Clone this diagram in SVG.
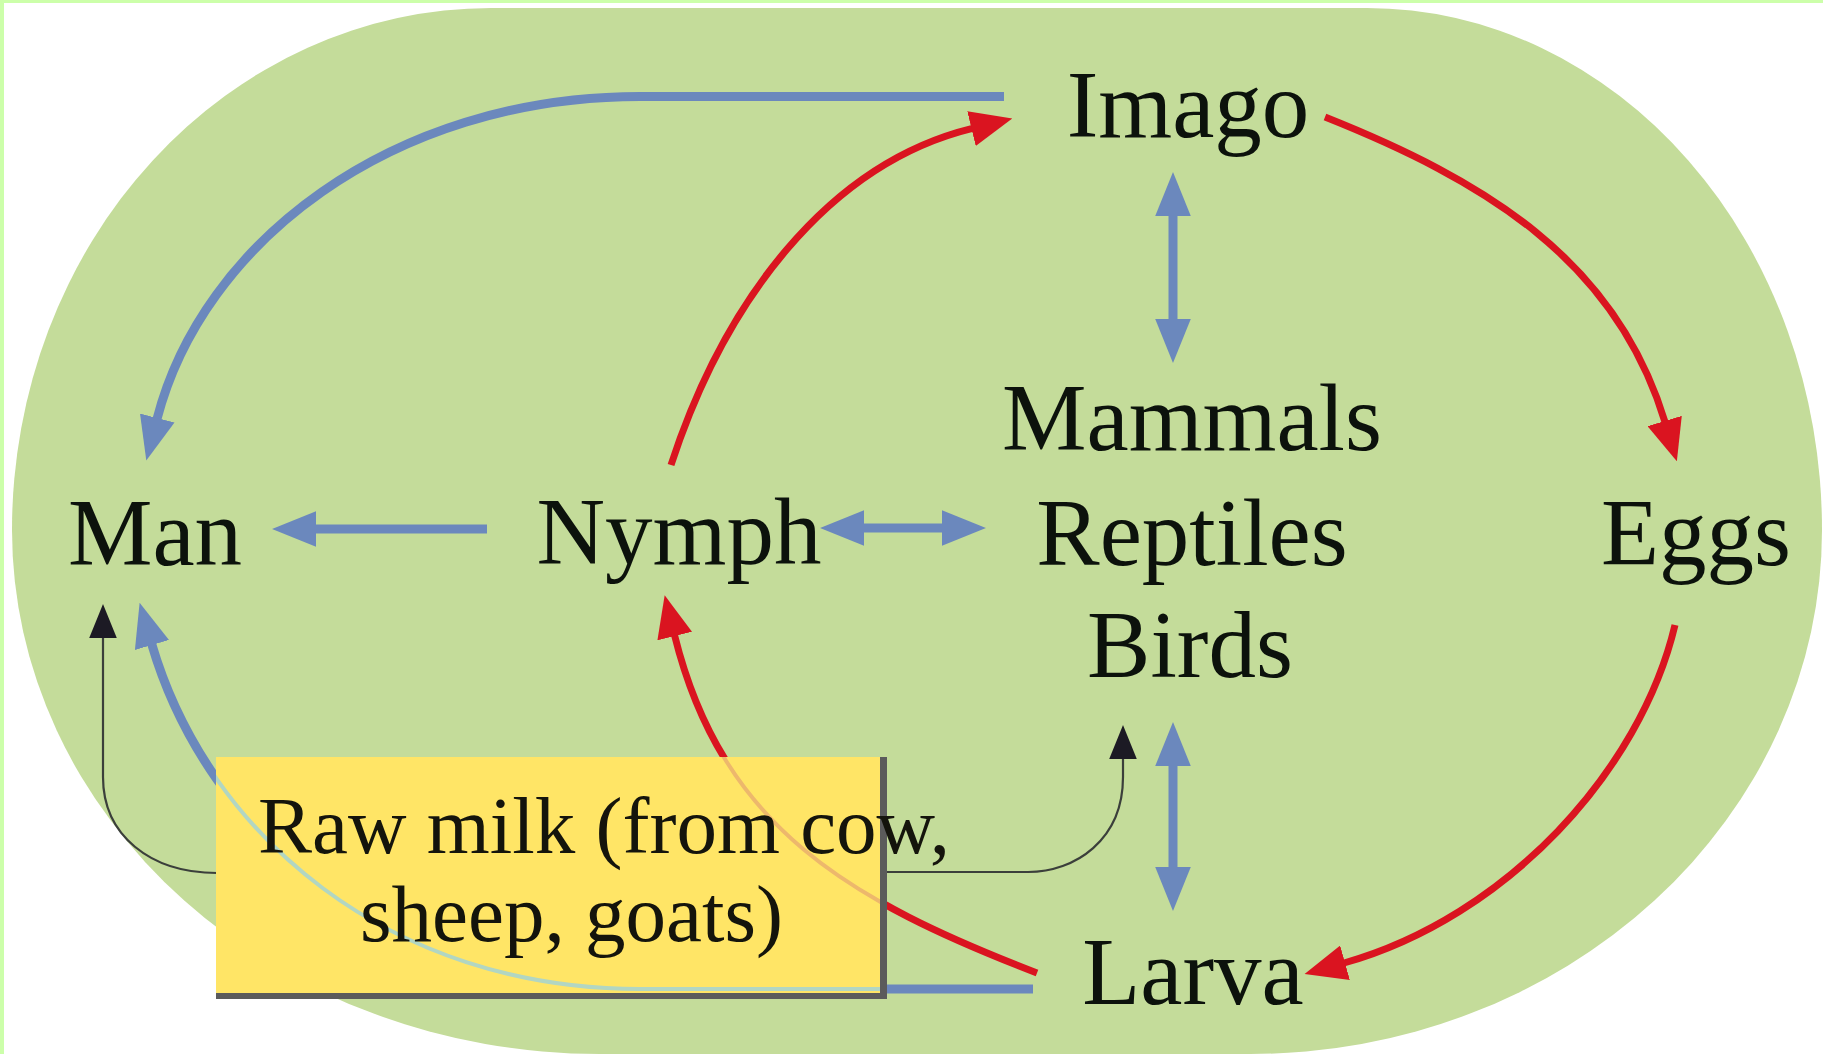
<svg xmlns="http://www.w3.org/2000/svg" width="1823" height="1054" viewBox="0 0 1823 1054">
<style>
.lbl{font-family:"Liberation Serif","Times New Roman",serif;font-size:95px;fill:#0c120c;text-anchor:middle}
.mtxt{font-family:"Liberation Serif","Times New Roman",serif;font-size:81px;fill:#14140c}
.blue{stroke:#6b88bd;stroke-width:9;fill:none}
.red{stroke:#da1420;stroke-width:7;fill:none}
.blk{stroke:#3b3f3b;stroke-width:2.2;fill:none}
</style>
<defs>
<marker id="ab" markerUnits="userSpaceOnUse" markerWidth="44" markerHeight="36" viewBox="0 0 42 34" refX="1" refY="17" orient="auto-start-reverse"><path d="M0,0 L42,17 L0,34 Z" fill="#6b88bd"/></marker>
<marker id="ar" markerUnits="userSpaceOnUse" markerWidth="42" markerHeight="36" viewBox="0 0 40 34" refX="1" refY="17" orient="auto"><path d="M0,0 L40,17 L0,34 Z" fill="#da1420"/></marker>
<marker id="ak" markerUnits="userSpaceOnUse" markerWidth="34" markerHeight="28" viewBox="0 0 32 26" refX="1" refY="13" orient="auto"><path d="M0,0 L32,13 L0,26 Z" fill="#1c1a24"/></marker>
<clipPath id="boxclip"><rect x="216" y="757" width="664" height="236"/></clipPath>
</defs>
<rect x="0" y="0" width="1823" height="1054" fill="#ffffff"/>
<rect x="0" y="0" width="1823" height="3" fill="#ccffaa"/>
<rect x="0" y="0" width="4" height="1054" fill="#ccffaa"/>
<path id="background" d="M12,530 A479,522 0 0 1 491,8 L1367,8 A455,522 0 0 1 1822,530 A572,524 0 0 1 1250,1054 L600,1054 A588,524 0 0 1 12,530 Z" fill="#c4dc9a"/>
<g id="connectors">
<path id="imago-man" class="blue" d="M1004,96.5 L640,96.5 C390,96.5 202,244 157,419" marker-end="url(#ab)"/>
<path id="larva-man" class="blue" d="M1033,989 L640,989 C390,989 208,836 151.7,644" marker-end="url(#ab)"/>
<path id="nymph-man" class="blue" d="M487,529 L315,529" marker-end="url(#ab)"/>
<path id="nymph-mammals" class="blue" d="M863,528 L943,528" marker-start="url(#ab)" marker-end="url(#ab)"/>
<path id="imago-mammals" class="blue" d="M1173,215 L1173,320" marker-start="url(#ab)" marker-end="url(#ab)"/>
<path id="birds-larva" class="blue" d="M1173,765 L1173,868" marker-start="url(#ab)" marker-end="url(#ab)"/>
<path id="nymph-imago" class="red" d="M671,465 C723.7,303.5 826.5,164 972.5,128.3" marker-end="url(#ar)"/>
<path id="imago-eggs" class="red" d="M1325,117 C1483,180 1615.7,258.8 1665,422" marker-end="url(#ar)"/>
<path id="eggs-larva" class="red" d="M1675,625 C1640.5,770.5 1507,917 1344,963" marker-end="url(#ar)"/>
<path id="larva-nymph" class="red" d="M1037,973 C851,901 722.5,829 674.5,635" marker-end="url(#ar)"/>
<path id="milk-man" class="blk" d="M217,873 C150,873 103,835 103,777 L103,637" marker-end="url(#ak)"/>
<path id="milk-birds" class="blk" d="M884,872 L1028,872 C1075,872 1123,840 1123,777 L1123,758" marker-end="url(#ak)"/>
</g>
<g id="raw-milk">
<rect x="216" y="757" width="664" height="236" fill="#ffe566"/>
<g clip-path="url(#boxclip)" fill="none" stroke-width="4">
<path d="M1033,989 L640,989 C390,989 208,836 151.7,644" stroke="#b2d6c2"/>
<path d="M1037,973 C851,901 722.5,829 674.5,635" stroke="#edb86c"/>
</g>
<rect x="880" y="757" width="7" height="242" fill="#5b5b5b"/>
<rect x="216" y="993" width="671" height="6" fill="#5b5b5b"/>
<text class="mtxt" x="258" y="853">Raw milk (from cow,</text>
<text class="mtxt" x="360" y="941">sheep, goats)</text>
</g>
<g id="imago"><text class="lbl" x="1188" y="137">Imago</text></g>
<g id="mammals-reptiles-birds">
<text class="lbl" x="1192" y="450">Mammals</text>
<text class="lbl" x="1192" y="565">Reptiles</text>
<text class="lbl" x="1190" y="677">Birds</text>
</g>
<g id="man"><text class="lbl" x="155" y="565">Man</text></g>
<g id="nymph"><text class="lbl" x="679" y="564">Nymph</text></g>
<g id="eggs"><text class="lbl" x="1696" y="565">Eggs</text></g>
<g id="larva"><text class="lbl" x="1193" y="1004">Larva</text></g>
</svg>
